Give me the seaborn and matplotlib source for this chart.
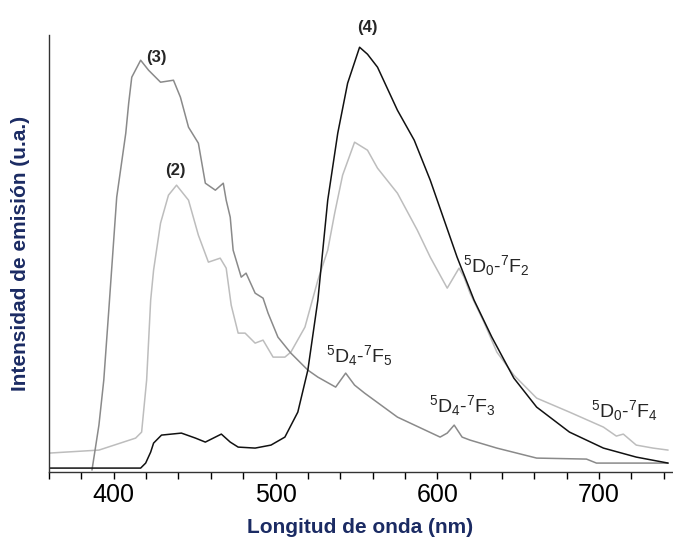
import pandas as pd
import matplotlib
matplotlib.use("Agg")
import matplotlib.pyplot as plt
import seaborn as sns

# Emission spectra (wavelength nm, intensity a.u.)
nm_2 = [360, 390.8, 413.5, 417.2, 420.3, 422.8, 424.6, 428.9, 433.8, 438.8, 446.2, 452.3,
        458.5, 465.8, 469.5, 472.6, 476.9, 481.2, 487.4, 492.3, 498.5, 505.8, 509.5, 518.2,
        526.2, 532.3, 536.6, 541.5, 548.9, 556.9, 563.1, 575.4, 587.7, 595.7, 606.2, 613.5,
        616.6, 620.3, 628.9, 636.9, 647.4, 661.5, 681.8, 702.8, 710.8, 715.1, 723.1, 733.5, 742.8]
int_2 = [19, 22, 34, 40, 92, 172, 202, 249, 277, 287, 272, 237,
         210, 214, 204, 167, 139, 139, 129, 132, 115, 115, 120, 145,
         192, 222, 259, 297, 330, 322, 304, 279, 242, 215, 184, 204,
         195, 179, 150, 120, 97, 74, 60, 45, 36, 38, 27, 24, 22]

nm_3 = [386.5, 390.8, 393.8, 396.9, 401.8, 407.4, 409.2, 411.1, 416.6, 421.5, 428.9, 436.9,
        441.2, 446.2, 452.3, 456.6, 462.8, 467.7, 469.5, 472, 473.8, 478.8, 481.8, 487.4,
        492.3, 495.4, 501.5, 509.5, 520, 526.2, 537.2, 543.4, 548.9, 555.1, 575.4, 601.8,
        606.2, 610.5, 615.4, 620.3, 636.9, 661.5, 692.3, 698.5, 742.8]
int_3 = [2, 47, 92, 162, 275, 339, 369, 395, 412, 402, 390, 392,
         375, 345, 329, 289, 282, 289, 272, 255, 222, 195, 199, 179,
         174, 159, 135, 119, 102, 95, 85, 99, 87, 79, 55, 35,
         39, 47, 35, 32, 24, 14, 13, 9, 9]

nm_4 = [360, 416.6, 419.7, 422.8, 424.6, 429.5, 441.8, 450.5, 456.6, 466.5, 472, 476.9,
        487.4, 497.2, 505.8, 513.8, 520, 526.2, 532.3, 538.5, 544.6, 552, 556.9, 563.1,
        575.4, 585.8, 595.7, 612.3, 622.8, 633.8, 647.4, 661.5, 681.8, 702.8, 723.1, 742.8]
int_4 = [4, 4, 9, 20, 29, 37, 39, 34, 30, 38, 30, 25,
         24, 27, 35, 60, 102, 172, 272, 339, 389, 425, 418, 405,
         362, 332, 292, 215, 172, 135, 94, 65, 40, 24, 15, 9]

curve_labels = ["(2)", "(3)", "(4)"]
transitions = [r"$^5$D$_4$-$^7$F$_5$", r"$^5$D$_4$-$^7$F$_3$",
               r"$^5$D$_0$-$^7$F$_2$", r"$^5$D$_0$-$^7$F$_4$"]

df = pd.concat([
    pd.DataFrame({"nm": nm_2, "I": int_2, "muestra": "(2)"}),
    pd.DataFrame({"nm": nm_3, "I": int_3, "muestra": "(3)"}),
    pd.DataFrame({"nm": nm_4, "I": int_4, "muestra": "(4)"}),
])

sns.set_style("ticks")
plt.rcParams["font.family"] = ["Liberation Sans", "DejaVu Sans"]
plt.rcParams["mathtext.default"] = "regular"

fig = plt.figure(figsize=(6.73, 5.42), dpi=100)
ax = fig.add_axes([0.073, 0.129, 0.925, 0.806])

sns.lineplot(data=df, x="nm", y="I", hue="muestra", sort=False, estimator=None,
             palette={"(2)": "#bdbdbd", "(3)": "#8a8a8a", "(4)": "#111111"},
             linewidth=1.1, legend=False, ax=ax)

ax.set_xlim(360, 745)
ax.set_ylim(0, 437)
ax.set_xticks(range(360, 745, 20))
ax.set_xticklabels([str(t) if t % 100 == 0 else "" for t in range(360, 745, 20)],
                   family=["Liberation Sans Narrow", "Liberation Sans"], fontsize=18)
ax.set_yticks([])
ax.tick_params(axis="x", direction="out", length=5, width=1, colors="black", pad=3)
sns.despine(ax=ax, top=True, right=True)
for s in ["left", "bottom"]:
    ax.spines[s].set_color("#333333")
    ax.spines[s].set_linewidth(1.0)

navy = "#1b2b63"
ax.set_xlabel("Longitud de onda (nm)", fontsize=15, fontweight="bold", color=navy, labelpad=8)
ax.set_ylabel("Intensidad de emisión (u.a.)", fontsize=15, fontweight="bold", color=navy, labelpad=14)

# curve numbers
ax.text(438, 302, curve_labels[0], ha="center", va="center", fontsize=12, fontweight="bold")
ax.text(426.5, 415, curve_labels[1], ha="center", va="center", fontsize=12, fontweight="bold")
ax.text(557, 445, curve_labels[2], ha="center", va="center", fontsize=12, fontweight="bold")

# transition labels
ax.text(531, 117, transitions[0], ha="left", va="center", fontsize=14)
ax.text(595, 67, transitions[1], ha="left", va="center", fontsize=14)
ax.text(616, 207, transitions[2], ha="left", va="center", fontsize=14)
ax.text(695, 62, transitions[3], ha="left", va="center", fontsize=14)

fig.savefig("out.png", dpi=100)
